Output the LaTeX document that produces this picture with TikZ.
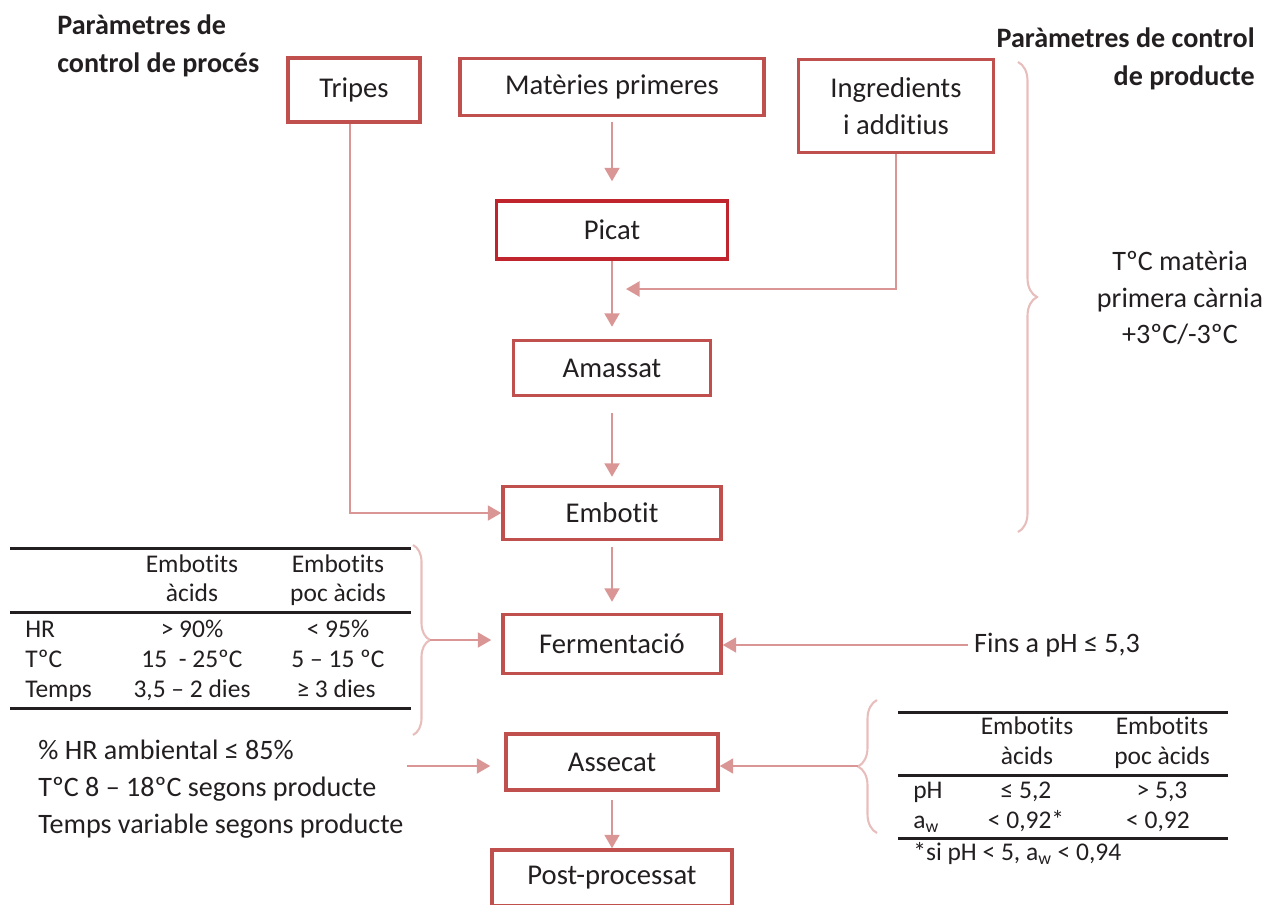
\documentclass[tikz,border=0pt]{standalone}
\usepackage{fontspec}
\setmainfont{Carlito}[Ligatures=NoCommon]
\usetikzlibrary{arrows.meta, decorations.pathreplacing}
\definecolor{boxred}{RGB}{192,80,77}
\definecolor{picatred}{RGB}{192,36,44}
\definecolor{arrowpink}{RGB}{217,150,148}
\definecolor{bracepink}{RGB}{232,190,189}
\definecolor{inkgray}{RGB}{35,31,32}
\tikzset{>={Triangle[length=0.27cm, width=0.3cm]},
  stage/.style={draw=boxred, line width=2pt, minimum height=1.1cm, text=inkgray, font=\fontsize{16.3}{21}\selectfont},
  flow/.style={->, draw=arrowpink, line width=1.2pt},
  curly/.style={draw=bracepink, line width=1.2pt, decorate, decoration={brace, amplitude=#1}},
  note/.style={text=inkgray, font=\fontsize{16}{21}\selectfont},
  head/.style={text=inkgray, font=\bfseries\fontsize{16}{22}\selectfont, inner sep=0pt},
  cell/.style={text=inkgray, font=\fontsize{14.5}{17}\selectfont, text height=1.5ex, text depth=.25ex, inner sep=0pt},
  rule/.style={draw=inkgray, line width=1.7pt}
}

\begin{document}
\begin{tikzpicture}[x=0.02cm, y=-0.02cm]
\useasboundingbox (0,0) rectangle (1268,904);
\node[head, anchor=west, align=left] (hproc) at (57,46) {Paràmetres de\\control de procés};
\node[head, anchor=east, align=right] (hprod) at (1255,59) {Paràmetres de control\\de producte};

\node[stage, minimum width=2.64cm, minimum height=1.28cm] (tripes) at (354,90) {Tripes};
\node[stage, minimum width=6.08cm, minimum height=1.14cm] (materies) at (612,87) {Matèries primeres};
\node[stage, minimum width=3.9cm, minimum height=1.86cm, align=center] (ingred) at (896,106) {Ingredients\\i additius};
\node[stage, draw=picatred, minimum width=4.62cm, minimum height=1.16cm] (picat) at (612,230) {Picat};
\node[stage, minimum width=3.94cm] (amassat) at (612,368) {Amassat};
\node[stage, minimum width=4.36cm, minimum height=1.06cm] (embotit) at (612,513) {Embotit};
\node[stage, minimum width=4.36cm, minimum height=1.18cm] (ferment) at (612,644) {Fermentació};
\node[stage, minimum width=4.24cm, minimum height=1.12cm] (assecat) at (612,762) {Assecat};
\node[stage, minimum width=4.8cm, minimum height=1.12cm] (postproc) at (612,878) {Post-processat};

\draw[flow, shorten <=0.1cm, shorten >=0.36cm] (materies) -- (picat);
\draw[flow, shorten >=0.24cm] (picat) -- (amassat);
\draw[flow, shorten <=0.32cm, shorten >=0.16cm] (amassat) -- (embotit);
\draw[flow, shorten <=0.12cm, shorten >=0.22cm] (embotit) -- (ferment);
\draw[flow, shorten <=0.16cm] (assecat) -- (postproc);
\coordinate (ingin) at (626,289);
\draw[flow] (ingred.south) |- (ingin);
\draw[flow] ([xshift=-0.08cm]tripes.south) |- (embotit.west);

\draw[curly=0.38cm] (1018,62) -- (1018,532);
\node[note, align=center] (tcmat) at (1180,298) {TºC matèria\\primera càrnia\\+3ºC/-3ºC};

\draw[rule] (10,548) -- (411,548);
\draw[rule] (10,612) -- (411,612);
\draw[rule] (10,708) -- (411,708);
\node[cell] (fh1) at (192,567) {Embotits};
\node[cell] (fh2) at (338,567) {Embotits};
\node[cell] (fh3) at (192,596) {àcids};
\node[cell] (fh4) at (338,596) {poc àcids};
\node[cell, anchor=west] (fhr) at (25,632) {HR};
\node[cell] (fhr1) at (192,632) {> 90\%};
\node[cell] (fhr2) at (338,632) {< 95\%};
\node[cell, anchor=west] (ftc) at (25,662) {TºC};
\node[cell] (ftc1) at (192,662) {15\ \ - 25ºC};
\node[cell] (ftc2) at (338,662) {5 – 15 ºC};
\node[cell, anchor=west] (ftm) at (25,692) {Temps};
\node[cell] (ftm1) at (192,692) {3,5 – 2 dies};
\node[cell] (ftm2) at (336,692) {≥ 3 dies};
\draw[curly=0.34cm] (413,545) -- (413,735);
\coordinate (fermtip) at (430,640);
\draw[flow, shorten >=0.2cm] (fermtip) -- (fermtip -| ferment.west);

\node[note, anchor=west] (fins) at (968,645) {Fins a pH ≤ 5,3};
\draw[flow] (fins.west) -- (fins.west -| ferment.east);

\node[note, anchor=west, align=left, inner sep=0pt] (secnote) at (38,789) {\% HR ambiental ≤ 85\%\\TºC 8 – 18ºC segons producte\\Temps variable segons producte};
\coordinate (secin) at (407,766);
\draw[flow, shorten >=0.28cm] (secin) -- (secin -| assecat.west);

\draw[rule] (898,712) -- (1228,712);
\draw[rule] (898,775) -- (1228,775);
\draw[rule] (898,838) -- (1228,838);
\node[cell] (sh1) at (1027,729) {Embotits};
\node[cell] (sh2) at (1162,729) {Embotits};
\node[cell] (sh3) at (1027,759) {àcids};
\node[cell] (sh4) at (1162,759) {poc àcids};
\node[cell, anchor=west] (sph) at (913,793) {pH};
\node[cell] (sph1) at (1026,793) {≤ 5,2};
\node[cell] (sph2) at (1162,793) {> 5,3};
\node[cell, anchor=west] (saw) at (913,823) {a\textsubscript{w}};
\node[cell] (saw1) at (1026,823) {< 0,92*};
\node[cell] (saw2) at (1158,823) {< 0,92};
\node[cell, anchor=west] (sfoot) at (913,855) {*si pH < 5, a\textsubscript{w} < 0,94};
\draw[curly=0.38cm] (877,833) -- (877,700);
\coordinate (sectip) at (858,766);
\draw[flow] (sectip) -- (sectip -| assecat.east);
\end{tikzpicture}
\end{document}
